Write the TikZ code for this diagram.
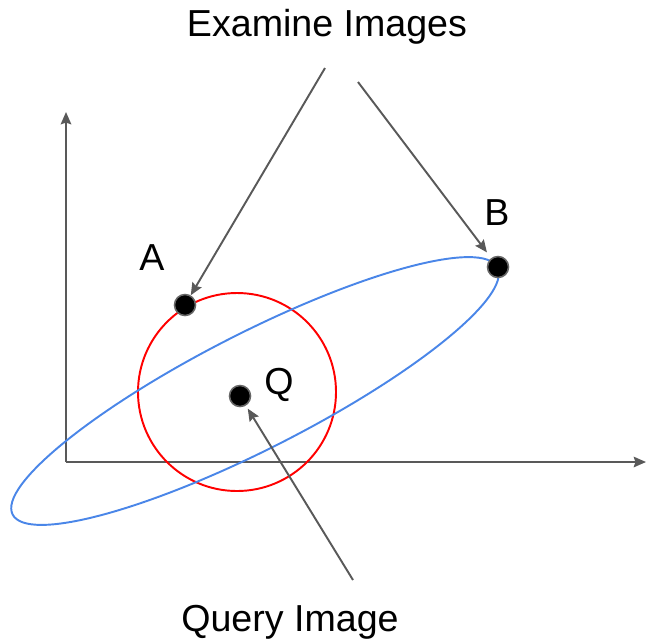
\documentclass[tikz,border=0pt]{standalone}
\usepackage{fontspec}
\setmainfont{Liberation Sans}
\usepackage{tikz}
\usetikzlibrary{arrows.meta, positioning}
\usepackage{xcolor}
\definecolor{axgray}{HTML}{595959}
\definecolor{ellblue}{HTML}{4A86E8}
\definecolor{circred}{HTML}{FF0000}

\begin{document}
\begin{tikzpicture}[x=0.02cm, y=-0.02cm,
    arr/.style={draw=axgray, line width=1.1pt, -{Stealth[length=7pt, width=6pt, inset=1pt]}},
    dot/.style={circle, fill=black, draw=gray!80!black, line width=0.9pt,
                inner sep=0pt, minimum size=0.42cm},
    lbl/.style={font=\fontsize{21.4}{25}\selectfont}]
    \useasboundingbox (0,0) rectangle (648,643);
    % axes
    \coordinate (O) at (66,462);
    \coordinate (ytop) at (66,112);
    \coordinate (xend) at (646,462);
    \draw[arr] (O) -- (ytop);
    \draw[arr] (O) -- (xend);
    % regions
    \draw[circred, line width=1.1pt] (237,392) circle (99);
    \draw[ellblue, line width=1.1pt, rotate around={27:(255,391)}]
      (255,391) ellipse [x radius=272, y radius=58];
    % points
    \node[dot] (A) at (185,305) {};
    \node[dot] (B) at (498,267) {};
    \node[dot] (Q) at (240,396) {};
    \node[lbl] (lA) at (152,258) {A};
    \node[lbl] (lB) at (497,213) {B};
    \node[lbl] (lQ) at (279,385) {Q};
    % captions
    \node[lbl] (exam) at (327,27) {Examine Images};
    \node[lbl] (query) at (290,622) {Query Image};
    \coordinate (e1) at (325,68);
    \coordinate (e2) at (358,82);
    \coordinate (q1) at (353,580);
    \draw[arr] (e1) -- (A);
    \draw[arr, shorten >=4pt] (e2) -- (B);
    \draw[arr, shorten >=2pt] (q1) -- (Q);
\end{tikzpicture}
\end{document}
